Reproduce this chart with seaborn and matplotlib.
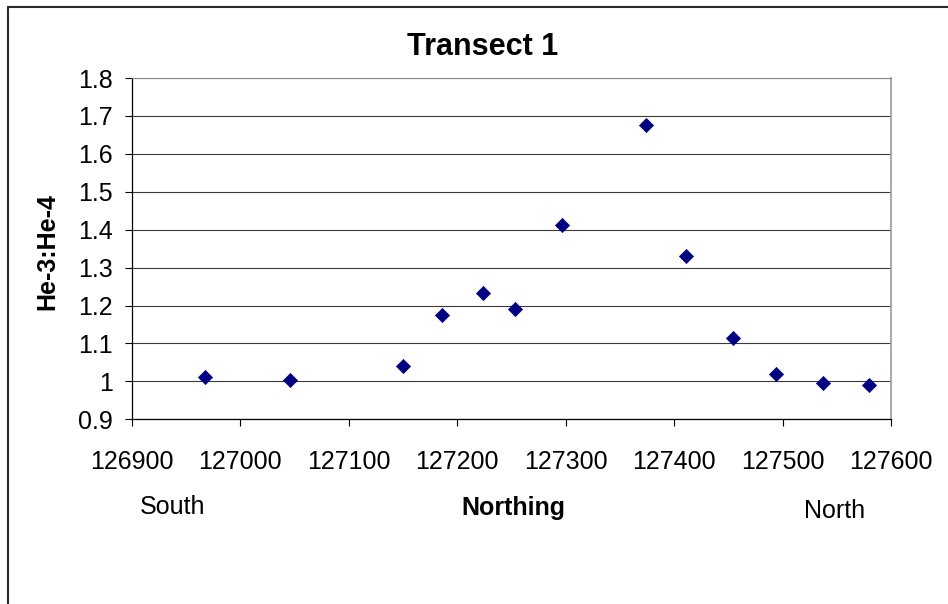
import matplotlib
matplotlib.use("Agg")
import matplotlib.pyplot as plt
from matplotlib.lines import Line2D
import numpy as np
import pandas as pd
import seaborn as sns

# Northing positions along transect 1 and measured He-3:He-4 ratios
northing = [126967, 127046, 127150, 127186, 127224, 127253, 127297,
            127374, 127411, 127454, 127494, 127537, 127580]
ratio = [1.012, 1.004, 1.041, 1.175, 1.234, 1.192, 1.413,
         1.676, 1.331, 1.114, 1.020, 0.995, 0.991]

x_ticks = [126900, 127000, 127100, 127200, 127300, 127400, 127500, 127600]
y_ticks = [0.9, 1.0, 1.1, 1.2, 1.3, 1.4, 1.5, 1.6, 1.7, 1.8]
y_tick_labels = ["0.9", "1", "1.1", "1.2", "1.3", "1.4", "1.5", "1.6", "1.7", "1.8"]

df = pd.DataFrame({"Northing": northing, "Ratio": ratio})

sns.set_theme(style="white")
plt.rcParams["font.family"] = ["Liberation Sans", "DejaVu Sans"]

fig = plt.figure(figsize=(9.48, 6.04), dpi=100)
ax = fig.add_axes([132 / 948, 1 - 419.3 / 604, (891 - 132) / 948, (419.3 - 78) / 604])

sns.scatterplot(data=df, x="Northing", y="Ratio", marker="D", s=52,
                color="#000080", edgecolor="#000080", linewidth=0.5,
                ax=ax, zorder=3, legend=False)

ax.set_xlim(126900, 127600)
ax.set_ylim(0.9, 1.8)
ax.set_xticks(x_ticks)
ax.set_xticklabels([str(t) for t in x_ticks])
ax.set_yticks(y_ticks)
ax.set_yticklabels(y_tick_labels)
ax.set_xlabel("")
ax.set_ylabel("")

ax.yaxis.grid(True, color="#3a3a3a", linewidth=0.8)
ax.xaxis.grid(False)
ax.set_axisbelow(True)

ax.tick_params(axis="both", which="major", direction="out", length=5,
               width=0.8, color="black", labelsize=18, labelcolor="black")
ax.tick_params(axis="x", pad=17)
ax.tick_params(axis="y", pad=9)
ax.tick_params(bottom=True, left=True)

for side in ("left", "bottom"):
    ax.spines[side].set_color("black")
    ax.spines[side].set_linewidth(0.9)
ax.spines["right"].set_color("#999999")
ax.spines["right"].set_linewidth(1.2)
ax.spines["top"].set_color("#888888")
ax.spines["top"].set_linewidth(0.8)

fig.text(483 / 948, 1 - 47 / 604, "Transect 1", ha="center", va="center",
         fontsize=22, fontweight="bold", color="black")
fig.text(47.5 / 948, 1 - 252 / 604, "He-3:He-4", ha="center", va="center",
         rotation=90, fontsize=18, fontweight="bold", color="black")
fig.text(513 / 948, 1 - 508 / 604, "Northing", ha="center", va="center",
         fontsize=18, fontweight="bold", color="black")
fig.text(173 / 948, 1 - 507 / 604, "South", ha="center", va="center",
         fontsize=18, color="black")
fig.text(835 / 948, 1 - 511 / 604, "North", ha="center", va="center",
         fontsize=18, color="black")

# chart frame: top and left edges
fig.add_artist(Line2D([7.5 / 948, 1.0], [1 - 6.5 / 604, 1 - 6.5 / 604],
                      transform=fig.transFigure, color="#2a2a2a", linewidth=1.5))
fig.add_artist(Line2D([7.5 / 948, 7.5 / 948], [0.0, 1 - 6.5 / 604],
                      transform=fig.transFigure, color="#2a2a2a", linewidth=1.5))

fig.savefig("out.png", dpi=100, facecolor="white")
